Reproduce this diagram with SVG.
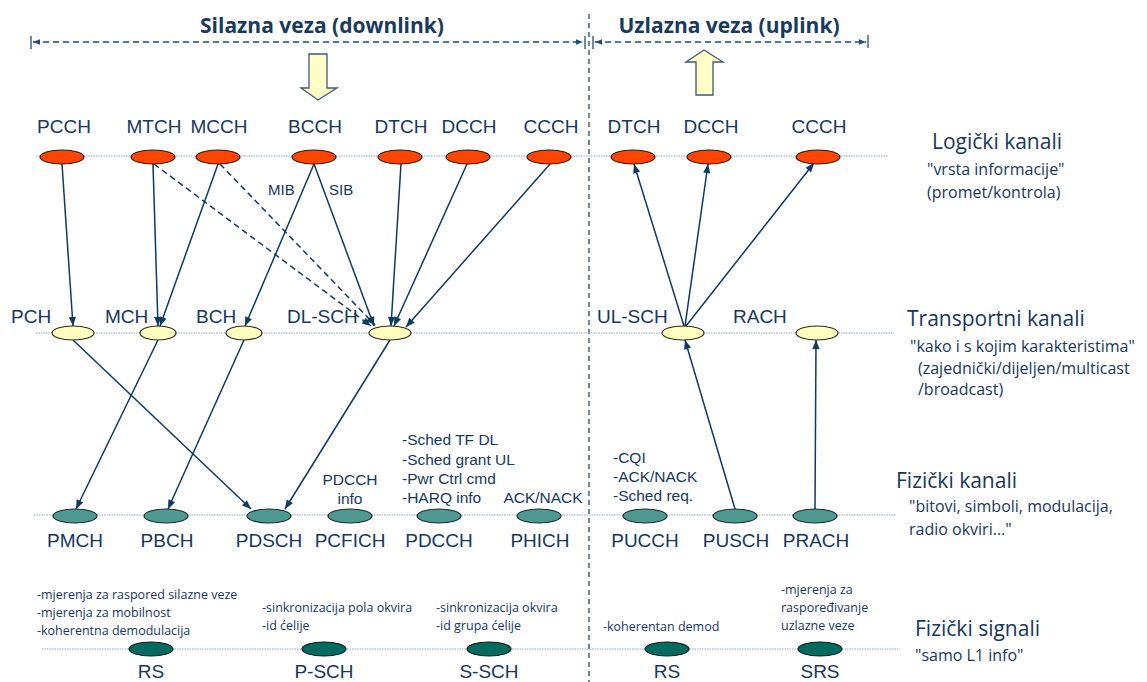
<svg xmlns="http://www.w3.org/2000/svg" width="1147" height="682" viewBox="0 0 1147 682">
<style>
.bg{fill:#ffffff}
.title{font-family:"Open Sans","Liberation Sans",sans-serif;font-weight:bold;font-size:21px;fill:#173a5e}
.lbl{font-family:"Liberation Sans",Arial,sans-serif;font-size:19px;fill:#17375e;text-anchor:middle}
.lbll{font-family:"Liberation Sans",Arial,sans-serif;font-size:19px;fill:#17375e}
.ann{font-family:"Liberation Sans",Arial,sans-serif;font-size:15.5px;fill:#17375e}
.annc{font-family:"Liberation Sans",Arial,sans-serif;font-size:15.5px;fill:#17375e;text-anchor:middle}
.sig{font-family:"Open Sans","Liberation Sans",sans-serif;font-size:12.5px;fill:#17375e}
.side{font-family:"Open Sans","Liberation Sans",sans-serif;font-size:21px;fill:#17375e}
.sub{font-family:"Open Sans","Liberation Sans",sans-serif;font-size:16px;fill:#17375e}
.dot{stroke:#8fa8c4;stroke-width:1;stroke-dasharray:1.5,1}
.div{stroke:#1f4e79;stroke-width:1.3;stroke-dasharray:5,4}
.span{stroke:#1f4e79;stroke-width:1.6;stroke-dasharray:6,4;fill:none}
.tick{stroke:#1f4e79;stroke-width:1.3}
.log{fill:#ff4500;stroke:#2a1a10;stroke-width:1.2}
.tr{fill:#ffffc0;stroke:#2a2a1a;stroke-width:1.2}
.ph{fill:#4e9a92;stroke:#1a2a2a;stroke-width:1.2}
.sg{fill:#006b5e;stroke:#0a1a1a;stroke-width:1.2}
.c{stroke:#0e3a63;stroke-width:1.5;fill:none;marker-end:url(#ah)}
.cd{stroke:#0e3a63;stroke-width:1.5;fill:none;stroke-dasharray:6,4;marker-end:url(#ah)}
.blk{fill:#ffffc8;stroke:#3c5a78;stroke-width:1.3}
.lab{font-family:"Liberation Sans",Arial,sans-serif;font-size:15px;fill:#17375e}
</style>
<defs>
<marker id="ah" viewBox="0 0 10 10" refX="10" refY="5" markerWidth="10" markerHeight="9" markerUnits="userSpaceOnUse" orient="auto">
<path d="M0,1 L10,5 L0,9 Z" fill="#0e3a63"/>
</marker>
<marker id="sh" viewBox="0 0 10 10" refX="10" refY="5" markerWidth="8" markerHeight="7" markerUnits="userSpaceOnUse" orient="auto-start-reverse">
<path d="M0,1 L10,5 L0,9 Z" fill="#1f4e79"/>
</marker>
</defs>
<rect class="bg" x="0" y="0" width="1147" height="682"/>

<g id="header">
<text class="title" x="322" y="33" text-anchor="middle">Silazna veza (downlink)</text>
<text class="title" x="729" y="33" text-anchor="middle">Uzlazna veza (uplink)</text>
<line class="span" x1="33" y1="42" x2="583" y2="42" marker-start="url(#sh)" marker-end="url(#sh)"/>
<line class="tick" x1="31" y1="36" x2="31" y2="49"/>
<line class="tick" x1="585" y1="36" x2="585" y2="49"/>
<line class="span" x1="595" y1="42" x2="866" y2="42" marker-start="url(#sh)" marker-end="url(#sh)"/>
<line class="tick" x1="593" y1="36" x2="593" y2="49"/>
<line class="tick" x1="868" y1="35" x2="868" y2="48"/>
<path class="blk" d="M309,54 H327 V88 H337 L318,100 L301,88 H309 Z"/>
<path class="blk" d="M704,50 L723,62 H713 V95 H696 V62 H686 Z"/>
<line class="div" x1="589" y1="14" x2="589" y2="682"/>
</g>

<g id="rows">
<line class="dot" x1="36" y1="156" x2="888" y2="156"/>
<line class="dot" x1="36" y1="333" x2="894" y2="333"/>
<line class="dot" x1="34" y1="515" x2="896" y2="515"/>
<line class="dot" x1="42" y1="649" x2="900" y2="649"/>
</g>

<g id="connectors">
<line class="c" x1="62" y1="164" x2="73" y2="326"/>
<line class="c" x1="153" y1="164" x2="158" y2="326"/>
<line class="c" x1="218" y1="164" x2="160" y2="326"/>
<line class="c" x1="314" y1="164" x2="245" y2="326"/>
<line class="c" x1="314" y1="164" x2="374" y2="326"/>
<line class="cd" x1="154" y1="164" x2="371" y2="326"/>
<line class="cd" x1="220" y1="164" x2="375" y2="325"/>
<line class="c" x1="401" y1="164" x2="391" y2="326"/>
<line class="c" x1="467" y1="164" x2="394" y2="326"/>
<line class="c" x1="550" y1="164" x2="406" y2="327"/>
<line class="c" x1="73" y1="340" x2="251" y2="509"/>
<line class="c" x1="158" y1="340" x2="76" y2="509"/>
<line class="c" x1="244" y1="340" x2="168" y2="509"/>
<line class="c" x1="390" y1="340" x2="285" y2="509"/>
<line class="c" x1="735" y1="509" x2="685" y2="340"/>
<line class="c" x1="815" y1="509" x2="816" y2="340"/>
<line class="c" x1="684" y1="326" x2="634" y2="164"/>
<line class="c" x1="685" y1="326" x2="708" y2="164"/>
<line class="c" x1="686" y1="326" x2="814" y2="163"/>
<text class="lab" x="268" y="195">MIB</text>
<text class="lab" x="329" y="195">SIB</text>
</g>

<g id="n-pcch"><ellipse class="log" cx="62" cy="157" rx="22" ry="7"/><text class="lbl" x="64" y="133">PCCH</text></g>
<g id="n-mtch"><ellipse class="log" cx="153" cy="157" rx="22" ry="7"/><text class="lbl" x="154" y="133">MTCH</text></g>
<g id="n-mcch"><ellipse class="log" cx="218" cy="157" rx="22" ry="7"/><text class="lbl" x="219" y="133">MCCH</text></g>
<g id="n-bcch"><ellipse class="log" cx="314" cy="157" rx="22" ry="7"/><text class="lbl" x="315" y="133">BCCH</text></g>
<g id="n-dtch-dl"><ellipse class="log" cx="400" cy="157" rx="22" ry="7"/><text class="lbl" x="401" y="133">DTCH</text></g>
<g id="n-dcch-dl"><ellipse class="log" cx="468" cy="157" rx="22" ry="7"/><text class="lbl" x="469" y="133">DCCH</text></g>
<g id="n-ccch-dl"><ellipse class="log" cx="549" cy="157" rx="22" ry="7"/><text class="lbl" x="551" y="133">CCCH</text></g>
<g id="n-dtch-ul"><ellipse class="log" cx="633" cy="157" rx="22" ry="7"/><text class="lbl" x="634" y="133">DTCH</text></g>
<g id="n-dcch-ul"><ellipse class="log" cx="709" cy="157" rx="22" ry="7"/><text class="lbl" x="711" y="133">DCCH</text></g>
<g id="n-ccch-ul"><ellipse class="log" cx="818" cy="157" rx="22" ry="7"/><text class="lbl" x="819" y="133">CCCH</text></g>

<g id="n-pch"><ellipse class="tr" cx="73" cy="333" rx="21" ry="7"/><text class="lbll" x="11" y="323">PCH</text></g>
<g id="n-mch"><ellipse class="tr" cx="158" cy="333" rx="18" ry="7"/><text class="lbll" x="105" y="323">MCH</text></g>
<g id="n-bch"><ellipse class="tr" cx="244" cy="333" rx="18" ry="7"/><text class="lbll" x="196" y="323">BCH</text></g>
<g id="n-dlsch"><ellipse class="tr" cx="390" cy="333" rx="21" ry="7"/><text class="lbll" x="287" y="323">DL-SCH</text></g>
<g id="n-ulsch"><ellipse class="tr" cx="683" cy="333" rx="21" ry="7"/><text class="lbll" x="597" y="323">UL-SCH</text></g>
<g id="n-rach"><ellipse class="tr" cx="817" cy="333" rx="21" ry="7"/><text class="lbll" x="733" y="323">RACH</text></g>

<g id="n-pmch"><ellipse class="ph" cx="75" cy="516" rx="22" ry="7"/><text class="lbl" x="75" y="547">PMCH</text></g>
<g id="n-pbch"><ellipse class="ph" cx="166" cy="516" rx="22" ry="7"/><text class="lbl" x="167" y="547">PBCH</text></g>
<g id="n-pdsch"><ellipse class="ph" cx="269" cy="516" rx="22" ry="7"/><text class="lbl" x="269" y="547">PDSCH</text></g>
<g id="n-pcfich"><ellipse class="ph" cx="350" cy="516" rx="22" ry="7"/><text class="lbl" x="350" y="547">PCFICH</text>
<text class="annc" x="350" y="485">PDCCH</text><text class="annc" x="350" y="504">info</text></g>
<g id="n-pdcch"><ellipse class="ph" cx="439" cy="516" rx="22" ry="7"/><text class="lbl" x="439" y="547">PDCCH</text>
<text class="ann" x="402" y="445">-Sched TF DL</text><text class="ann" x="402" y="465">-Sched grant UL</text><text class="ann" x="402" y="484">-Pwr Ctrl cmd</text><text class="ann" x="402" y="503">-HARQ info</text></g>
<g id="n-phich"><ellipse class="ph" cx="539" cy="516" rx="22" ry="7"/><text class="lbl" x="540" y="547">PHICH</text>
<text class="annc" x="543" y="503">ACK/NACK</text></g>
<g id="n-pucch"><ellipse class="ph" cx="645" cy="516" rx="22" ry="7"/><text class="lbl" x="645" y="547">PUCCH</text>
<text class="ann" x="613" y="463">-CQI</text><text class="ann" x="613" y="482">-ACK/NACK</text><text class="ann" x="613" y="501">-Sched req.</text></g>
<g id="n-pusch"><ellipse class="ph" cx="735" cy="516" rx="22" ry="7"/><text class="lbl" x="736" y="547">PUSCH</text></g>
<g id="n-prach"><ellipse class="ph" cx="815" cy="516" rx="22" ry="7"/><text class="lbl" x="816" y="547">PRACH</text></g>

<g id="n-rs-dl"><ellipse class="sg" cx="151" cy="649" rx="22" ry="7"/><text class="lbl" x="151" y="678">RS</text>
<text class="sig" x="37" y="599">-mjerenja za raspored silazne veze</text><text class="sig" x="37" y="617">-mjerenja za mobilnost</text><text class="sig" x="37" y="635">-koherentna demodulacija</text></g>
<g id="n-psch"><ellipse class="sg" cx="324" cy="649" rx="22" ry="7"/><text class="lbl" x="324" y="678">P-SCH</text>
<text class="sig" x="262" y="612">-sinkronizacija pola okvira</text><text class="sig" x="262" y="630">-id ćelije</text></g>
<g id="n-ssch"><ellipse class="sg" cx="489" cy="649" rx="22" ry="7"/><text class="lbl" x="489" y="678">S-SCH</text>
<text class="sig" x="436" y="612">-sinkronizacija okvira</text><text class="sig" x="436" y="630">-id grupa ćelije</text></g>
<g id="n-rs-ul"><ellipse class="sg" cx="667" cy="649" rx="22" ry="7"/><text class="lbl" x="667" y="678">RS</text>
<text class="sig" x="603" y="631">-koherentan demod</text></g>
<g id="n-srs"><ellipse class="sg" cx="820" cy="649" rx="22" ry="7"/><text class="lbl" x="820" y="678">SRS</text>
<text class="sig" x="781" y="594">-mjerenja za</text><text class="sig" x="781" y="612">raspoređivanje</text><text class="sig" x="781" y="630">uzlazne veze</text></g>

<g id="side-labels">
<text class="side" x="932" y="149">Logički kanali</text>
<text class="sub" x="927" y="175">"vrsta informacije"</text>
<text class="sub" x="927" y="198">(promet/kontrola)</text>
<text class="side" x="907" y="326">Transportni kanali</text>
<text class="sub" x="910" y="352">"kako i s kojim karakteristima"</text>
<text class="sub" x="918" y="374">(zajednički/dijeljen/multicast</text>
<text class="sub" x="918" y="395">/broadcast)</text>
<text class="side" x="896" y="488">Fizički kanali</text>
<text class="sub" x="909" y="512">"bitovi, simboli, modulacija,</text>
<text class="sub" x="909" y="535">radio okviri..."</text>
<text class="side" x="915" y="636">Fizički signali</text>
<text class="sub" x="915" y="661">"samo L1 info"</text>
</g>
</svg>
